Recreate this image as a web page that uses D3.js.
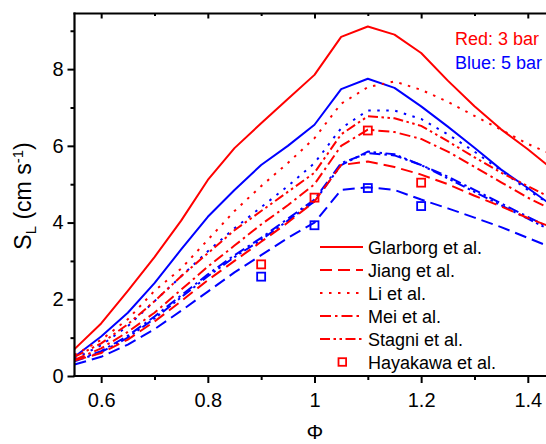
<!DOCTYPE html>
<html>
<head>
<meta charset="utf-8">
<script src="https://cdn.jsdelivr.net/npm/d3@7"></script>
<style>
  html, body { margin: 0; padding: 0; background: #fff; }
  svg { display: block; }
  text { font-family: "Liberation Sans", Arial, sans-serif; }
</style>
</head>
<body>
<svg id="chart" width="546" height="444"></svg>
<script>
// ---- data ----
const phi = [0.55, 0.6, 0.65, 0.7, 0.75, 0.8, 0.85, 0.9, 0.95, 1.0, 1.05, 1.1, 1.15, 1.2, 1.25, 1.3, 1.35, 1.4, 1.45];

const glarborg3 = [0.70, 1.37, 2.22, 3.10, 4.05, 5.11, 5.94, 6.59, 7.22, 7.85, 8.84, 9.11, 8.90, 8.42, 7.70, 7.03, 6.43, 5.91, 5.35];
const glarborg5 = [0.50, 1.03, 1.65, 2.42, 3.30, 4.15, 4.85, 5.50, 6.00, 6.55, 7.48, 7.75, 7.51, 7.03, 6.50, 5.95, 5.38, 4.90, 4.40];
const jiang3    = [0.40, 0.60, 0.95, 1.42, 1.95, 2.50, 3.00, 3.50, 4.00, 4.55, 5.50, 5.59, 5.45, 5.25, 5.00, 4.70, 4.42, 4.12, 3.85];
const jiang5    = [0.30, 0.50, 0.82, 1.22, 1.70, 2.20, 2.70, 3.15, 3.60, 4.00, 4.85, 4.92, 4.85, 4.60, 4.37, 4.13, 3.88, 3.60, 3.32];
const li3       = [0.55, 0.94, 1.48, 2.22, 2.80, 3.55, 4.30, 4.95, 5.55, 6.20, 7.10, 7.53, 7.68, 7.46, 7.15, 6.78, 6.42, 6.05, 5.75];
const li5       = [0.45, 0.80, 1.30, 1.95, 2.60, 3.25, 3.85, 4.40, 4.95, 5.55, 6.46, 6.92, 6.92, 6.70, 6.30, 5.85, 5.35, 4.85, 4.40];
const mei3      = [0.42, 0.72, 1.15, 1.65, 2.25, 2.85, 3.40, 3.95, 4.45, 5.00, 6.00, 6.42, 6.36, 6.18, 5.85, 5.45, 5.05, 4.65, 4.30];
const mei5      = [0.40, 0.65, 1.05, 1.55, 2.10, 2.65, 3.15, 3.60, 4.10, 4.60, 5.55, 5.81, 5.75, 5.50, 5.20, 4.85, 4.50, 4.15, 3.80];
const stagni3   = [0.50, 0.85, 1.35, 1.95, 2.60, 3.20, 3.80, 4.30, 4.80, 5.30, 6.30, 6.77, 6.72, 6.52, 6.12, 5.70, 5.30, 4.95, 4.60];
const stagni5   = [0.38, 0.62, 1.00, 1.50, 2.05, 2.60, 3.10, 3.55, 4.05, 4.55, 5.50, 5.85, 5.78, 5.50, 5.15, 4.80, 4.45, 4.10, 3.75];

const phiExp    = [0.9, 1.0, 1.1, 1.2];
const hayakawa3 = [2.91, 4.65, 6.40, 5.04];
const hayakawa5 = [2.59, 3.93, 4.90, 4.43];

const xMajor = [0.6, 0.8, 1.0, 1.2, 1.4];
const xMajorLabels = ["0.6", "0.8", "1", "1.2", "1.4"];
const xMinor = [0.7, 0.9, 1.1, 1.3];
const yMajor = [0, 2, 4, 6, 8];
const yMajorLabels = ["0", "2", "4", "6", "8"];
const yMinor = [1, 3, 5, 7, 9];

const modelNames = ["Glarborg et al.", "Jiang et al.", "Li et al.", "Mei et al.", "Stagni et al."];
const expName = "Hayakawa et al.";
const pressureNotes = ["Red: 3 bar", "Blue: 5 bar"];

(function () {
  const RED = "#ff0000", BLUE = "#0000ff";
  const dashes = {
    "Glarborg et al.": null,
    "Jiang et al.": "12,6",
    "Li et al.": "2.5,6.5",
    "Mei et al.": "11,4,2.5,4",
    "Stagni et al.": "10,3.5,2.5,3.5,2.5,3.5"
  };
  const seriesRed = [glarborg3, jiang3, li3, mei3, stagni3];
  const seriesBlue = [glarborg5, jiang5, li5, mei5, stagni5];

  const svg = d3.select("#chart");
  const pL = 74.5, pT = 13.5, pB = 376;
  const x = d3.scaleLinear().domain([0.55, 1.45]).range([pL, pL + 0.9 * 533.3]);
  const y = d3.scaleLinear().domain([0, 9.45]).range([pB, pT]);

  svg.append("defs").append("clipPath").attr("id", "clip")
    .append("rect").attr("x", pL).attr("y", pT).attr("width", 600).attr("height", pB - pT);

  const plot = svg.append("g").attr("clip-path", "url(#clip)");
  const line = d3.line().x((d, i) => x(phi[i])).y(d => y(d));

  function drawSeries(arr, color) {
    arr.forEach((vals, k) => {
      plot.append("path")
        .datum(vals)
        .attr("d", line)
        .attr("fill", "none")
        .attr("stroke", color)
        .attr("stroke-width", 2)
        .attr("stroke-dasharray", dashes[modelNames[k]])
        .attr("stroke-linejoin", "round");
    });
  }
  drawSeries(seriesBlue, BLUE);
  drawSeries(seriesRed, RED);

  function drawExp(vals, color) {
    plot.selectAll(null).data(vals).enter().append("rect")
      .attr("x", (d, i) => x(phiExp[i]) - 4)
      .attr("y", d => y(d) - 4)
      .attr("width", 8).attr("height", 8)
      .attr("fill", "none").attr("stroke", color).attr("stroke-width", 1.8);
  }
  drawExp(hayakawa3, RED);
  drawExp(hayakawa5, BLUE);

  const fmtX = d => xMajorLabels[xMajor.indexOf(d)];
  const fmtY = d => yMajorLabels[yMajor.indexOf(d)];

  function styleAxis(g) {
    g.select(".domain").remove();
    g.selectAll("line").attr("stroke", "#000").attr("stroke-width", 2);
    g.selectAll("text").attr("font-size", 20).attr("fill", "#000")
      .attr("font-family", "'Liberation Sans', Arial, sans-serif");
  }

  svg.append("g").attr("transform", `translate(0,${pB})`)
    .call(d3.axisBottom(x).tickValues(xMajor).tickFormat(fmtX).tickSize(7).tickPadding(9.5)).call(styleAxis);
  svg.append("g").attr("transform", `translate(0,${pB})`)
    .call(d3.axisBottom(x).tickValues(xMinor).tickFormat("").tickSize(4)).call(styleAxis);
  svg.append("g").attr("transform", `translate(0,${pT})`)
    .call(d3.axisTop(x).tickValues(xMajor).tickFormat("").tickSize(-5)).call(styleAxis);
  svg.append("g").attr("transform", `translate(0,${pT})`)
    .call(d3.axisTop(x).tickValues(xMinor).tickFormat("").tickSize(-2.5)).call(styleAxis);
  svg.append("g").attr("transform", `translate(${pL},0)`)
    .call(d3.axisLeft(y).tickValues(yMajor).tickFormat(fmtY).tickSize(7).tickPadding(4)).call(styleAxis);
  svg.append("g").attr("transform", `translate(${pL},0)`)
    .call(d3.axisLeft(y).tickValues(yMinor).tickFormat("").tickSize(4)).call(styleAxis);

  svg.append("line").attr("x1", pL).attr("x2", pL).attr("y1", pT - 1).attr("y2", pB + 1)
    .attr("stroke", "#000").attr("stroke-width", 2.2);
  svg.append("line").attr("x1", pL - 1).attr("x2", 546).attr("y1", pB).attr("y2", pB)
    .attr("stroke", "#000").attr("stroke-width", 2.2);
  svg.append("line").attr("x1", pL - 1).attr("x2", 546).attr("y1", pT).attr("y2", pT)
    .attr("stroke", "#000").attr("stroke-width", 2.2);

  const yt = svg.append("text")
    .attr("transform", "translate(31,196) rotate(-90)")
    .attr("text-anchor", "middle")
    .attr("font-size", 23).attr("fill", "#000");
  yt.append("tspan").text("S");
  yt.append("tspan").attr("font-size", 15).attr("dy", 5).text("L");
  yt.append("tspan").attr("dy", -5).text(" (cm s");
  yt.append("tspan").attr("font-size", 15).attr("dy", -8).text("-1");
  yt.append("tspan").attr("dy", 8).text(")");

  svg.append("text").attr("x", 315).attr("y", 439).attr("text-anchor", "middle")
    .attr("font-family", "'Liberation Serif', 'Times New Roman', serif")
    .attr("font-size", 21).attr("fill", "#000").text("Φ");

  svg.append("text").attr("x", 455).attr("y", 45).attr("font-size", 18).attr("fill", RED).text(pressureNotes[0]);
  svg.append("text").attr("x", 455).attr("y", 68.5).attr("font-size", 18).attr("fill", BLUE).text(pressureNotes[1]);

  const lg = svg.append("g");
  const rowY = i => 254 + i * 23;
  modelNames.forEach((name, i) => {
    lg.append("line").attr("x1", 320).attr("x2", 363)
      .attr("y1", rowY(i) - 7).attr("y2", rowY(i) - 7)
      .attr("stroke", RED).attr("stroke-width", 2)
      .attr("stroke-dasharray", dashes[name]);
    lg.append("text").attr("x", 368).attr("y", rowY(i)).attr("font-size", 18).attr("fill", "#000").text(name);
  });
  lg.append("rect").attr("x", 342.3 - 3.8).attr("y", rowY(5) - 7 - 3.8).attr("width", 7.6).attr("height", 7.6)
    .attr("fill", "none").attr("stroke", RED).attr("stroke-width", 1.8);
  lg.append("text").attr("x", 368).attr("y", rowY(5)).attr("font-size", 18).attr("fill", "#000").text(expName);
})();
</script>
</body>
</html>
